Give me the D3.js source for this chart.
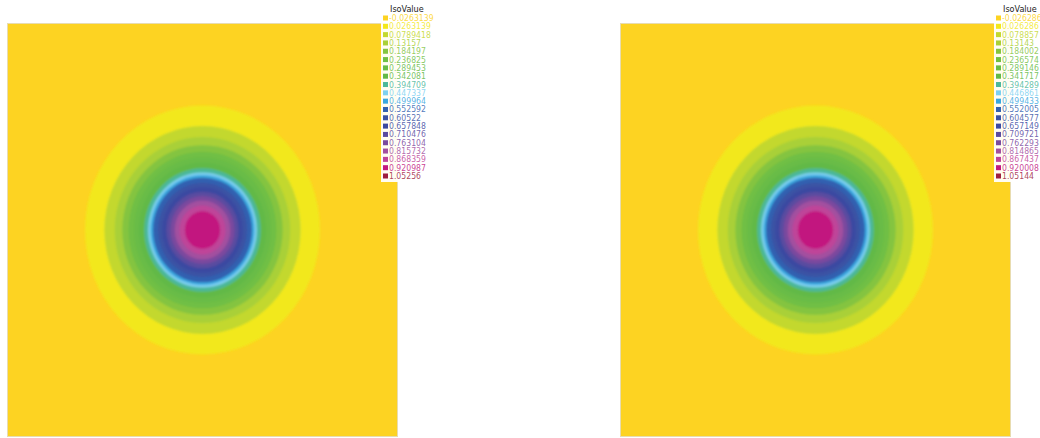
<!DOCTYPE html>
<html>
<head>
<meta charset="utf-8">
<script src="https://cdn.jsdelivr.net/npm/d3@7/dist/d3.min.js"></script>
<style>
  html, body { margin: 0; padding: 0; background: #ffffff; }
  svg { display: block; }
  text { font-family: "Liberation Sans Narrow", "DejaVu Sans Condensed", "Liberation Sans", sans-serif; }
</style>
</head>
<body>
<svg id="chart" width="1040" height="438"></svg>
<script>
// ---- data ----
const isoLabelsLeft = ["-0.0263139", "0.0263139", "0.0789418", "0.13157", "0.184197", "0.236825",
  "0.289453", "0.342081", "0.394709", "0.447337", "0.499964", "0.552592", "0.60522", "0.657848",
  "0.710476", "0.763104", "0.815732", "0.868359", "0.920987", "1.05256"];
const isoLabelsRight = ["-0.026286", "0.026286", "0.078857", "0.13143", "0.184002", "0.236574",
  "0.289146", "0.341717", "0.394289", "0.446861", "0.499433", "0.552005", "0.604577", "0.657149",
  "0.709721", "0.762293", "0.814865", "0.867437", "0.920008", "1.05144"];
const bandColors = ["#fdd322", "#f2e81c", "#c3d82f", "#a9d037", "#84c441", "#70bf44", "#69bc46",
  "#62b947", "#4cb89a", "#7dd0f0", "#3aa7df", "#3161b0", "#3a52a4", "#3b4aa1", "#5a4ba0",
  "#7a4a9e", "#a3509f", "#bf4499", "#c2197f", "#9e1f3f"];
// radius (domain units, domain [-1,1]) where the field crosses iso level 1..18
const isoRadius = [0.601, 0.502, 0.449, 0.410, 0.378, 0.351, 0.326, 0.298, 0.278, 0.266,
  0.253, 0.228, 0.206, 0.185, 0.164, 0.142, 0.118, 0.090];
const domainX = [-1, 1];
const domainY = [-1, 1];

const svg = d3.select("#chart");
const defs = svg.append("defs");
defs.append("filter").attr("id", "soft")
  .attr("x", "-5%").attr("y", "-5%").attr("width", "110%").attr("height", "110%")
  .append("feGaussianBlur").attr("stdDeviation", 0.8);

function panel(id, x0, x1, y0, y1, labels) {
  const xs = d3.scaleLinear().domain(domainX).range([x0, x1]);
  const ys = d3.scaleLinear().domain(domainY).range([y1, y0]);
  defs.append("clipPath").attr("id", "clip" + id)
    .append("rect").attr("x", x0).attr("y", y0).attr("width", x1 - x0).attr("height", y1 - y0);

  const g = svg.append("g").attr("clip-path", `url(#clip${id})`);
  g.append("rect").attr("x", x0).attr("y", y0).attr("width", x1 - x0).attr("height", y1 - y0)
    .attr("fill", bandColors[0]);
  const rings = g.append("g").attr("filter", "url(#soft)");
  rings.selectAll("ellipse").data(isoRadius).join("ellipse")
    .attr("cx", xs(0)).attr("cy", ys(0))
    .attr("rx", d => xs(d) - xs(0))
    .attr("ry", d => ys(0) - ys(d))
    .attr("fill", (d, i) => bandColors[i + 1]);

  svg.append("rect").attr("x", x0 + 0.5).attr("y", y0 + 0.5)
    .attr("width", x1 - x0 - 1).attr("height", y1 - y0 - 1)
    .attr("fill", "none").attr("stroke", "#e8dcb0").attr("stroke-width", 1);

  // legend
  const lx = x1 - 15;
  const rowY = d3.scaleLinear().domain([0, labels.length - 1]).range([18, 176]);
  const lg = svg.append("g");
  lg.append("rect").attr("x", lx - 2).attr("y", 14).attr("width", 46).attr("height", 168)
    .attr("fill", "#ffffff").attr("opacity", 0.95);
  lg.append("text").attr("x", lx + 7).attr("y", 12).text("IsoValue")
    .attr("font-size", 9).attr("fill", "#222");
  const rows = lg.selectAll("g.row").data(labels).join("g").attr("class", "row");
  rows.append("rect").attr("x", lx).attr("y", (d, i) => rowY(i) - 2.5)
    .attr("width", 5).attr("height", 5).attr("fill", (d, i) => bandColors[i]);
  rows.append("text").attr("x", lx + 6).attr("y", (d, i) => rowY(i) + 3)
    .attr("font-size", 8.6).attr("fill", (d, i) => bandColors[i]).attr("fill-opacity", 0.85)
    .text(d => d);
}

panel("L", 7, 398, 23, 437, isoLabelsLeft);
panel("R", 620, 1011, 23, 437, isoLabelsRight);
</script>
</body>
</html>
